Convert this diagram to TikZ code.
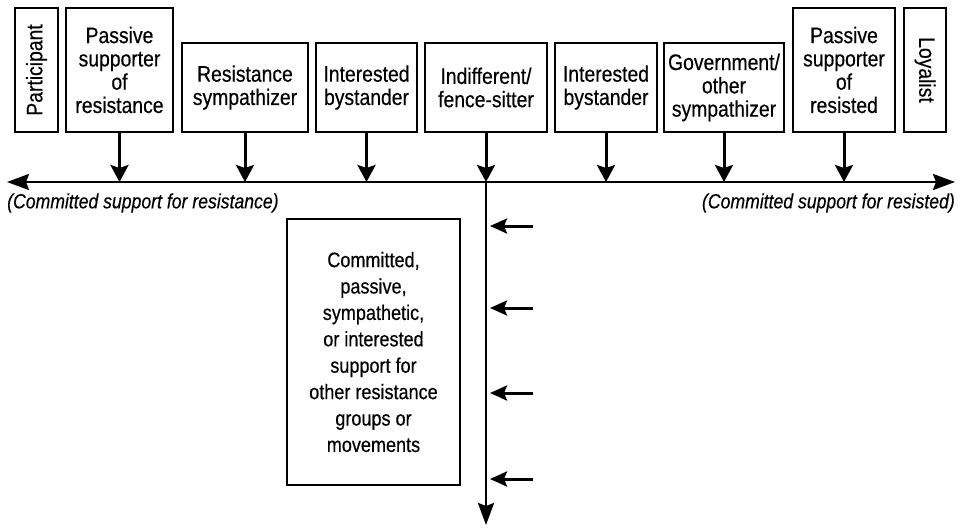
\documentclass[tikz,border=0pt]{standalone}
\usepackage{fontspec}
\setmainfont[FakeStretch=0.86,FakeBold=0.4]{Liberation Sans}
\usetikzlibrary{arrows.meta}
\tikzset{
  axistip/.tip={Stealth[length=22pt,width=16pt,inset=3pt]},
  feedtip/.tip={Stealth[length=17pt,width=18pt,inset=3pt]},
  intip/.tip={Stealth[length=17pt,width=15pt,inset=3pt]}
}
\begin{document}
\begin{tikzpicture}[x=1pt,y=-1pt,
  stance/.style={draw, line width=1.8pt, inner sep=0pt, align=center,
    font=\fontsize{22.5}{23.3}\selectfont},
  tallbox/.style={stance, minimum height=124pt},
  shortbox/.style={stance, minimum height=89pt},
  feed/.style={line width=3pt, -feedtip},
  axis/.style={line width=2.6pt},
  inflow/.style={line width=3pt, -intip},
  axislabel/.style={inner sep=0pt, font=\fontsize{20.5}{22}\selectfont\itshape}]
\useasboundingbox (0,0) rectangle (963,527);

% upper row of positions along the spectrum
\node[tallbox, minimum width=43pt] (part) at (36.5,70) {\rotatebox{90}{Participant}};
\node[tallbox, minimum width=107pt] (psr) at (119.5,70) {Passive\\supporter\\of\\resistance};
\node[shortbox, minimum width=126pt] (rsym) at (245,87.5) {Resistance\\sympathizer};
\node[shortbox, minimum width=101pt] (ib1) at (366.5,87.5) {Interested\\bystander};
\node[shortbox, minimum width=122pt] (ind) at (486,87.5) {Indifferent/\\fence-sitter};
\node[shortbox, minimum width=102pt] (ib2) at (606,87.5) {Interested\\bystander};
\node[shortbox, minimum width=120pt] (gov) at (724,87.5) {Government/\\other\\sympathizer};
\node[tallbox, minimum width=102pt] (psd) at (844,70) {Passive\\supporter\\of\\resisted};
\node[tallbox, minimum width=42pt] (loy) at (925,70) {\rotatebox{-90}{Loyalist}};

% the horizontal spectrum
\coordinate (L) at (7,182);
\coordinate (R) at (955,182);
\draw[axis, axistip-axistip] (L) -- (R);

\foreach \b in {psr,rsym,ib1,ind,ib2,gov,psd}
  \draw[feed] (\b.south) -- (\b.south |- L);

\node[axislabel, anchor=west] (lres) at (7,203) {(Committed support for resistance)};
\node[axislabel, anchor=east] (lrsd) at (955,203) {(Committed support for resisted)};

% the vertical branch
\coordinate (V0) at (486,182);
\coordinate (V1) at (486,525);
\draw[axis, -axistip] (V0) -- (V1);

\node[draw, line width=1.4pt, minimum width=173pt, minimum height=266pt,
  inner sep=0pt, align=center, font=\fontsize{21}{26.4}\selectfont] (other) at (373.5,352)
  {Committed,\\passive,\\sympathetic,\\or interested\\support for\\other resistance\\groups or\\movements};

\foreach \i/\y in {1/226,2/308,3/393,4/479} {
  \coordinate (s\i) at (533,\y);
  \coordinate (e\i) at (490,\y);
  \draw[inflow] (s\i) -- (e\i);
}
\end{tikzpicture}
\end{document}
